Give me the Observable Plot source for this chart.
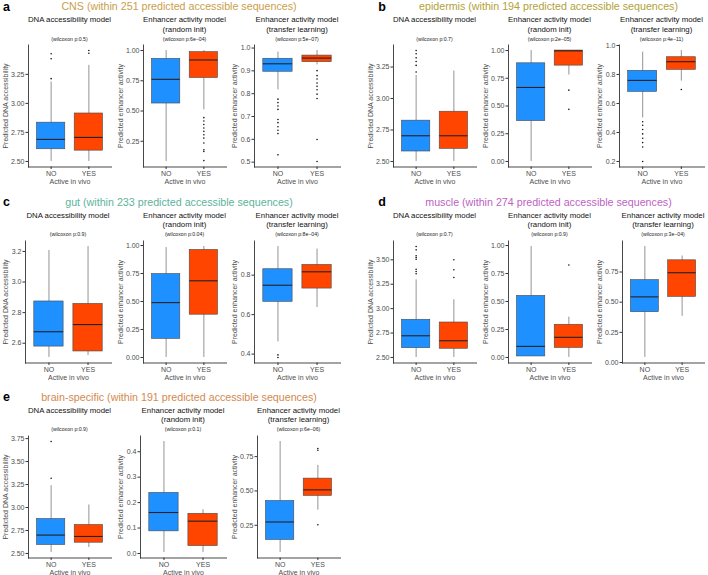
<!DOCTYPE html>
<html><head><meta charset="utf-8">
<script src="https://cdn.jsdelivr.net/npm/d3@7"></script>
<script src="https://cdn.jsdelivr.net/npm/@observablehq/plot@0.6"></script>
<style>
html,body{margin:0;padding:0;background:#fff;}
#chart{position:relative;width:708px;height:575px;overflow:hidden;font-family:"Liberation Sans",Arial,Helvetica,sans-serif;color:#1a1a1a;}
.t{position:absolute;white-space:nowrap;transform:translate(-50%,-50%);line-height:1;}
.sp{position:absolute;}
</style></head><body><div id="chart"></div>
<script>
// ---------- data ----------
const groups = ["NO", "YES"];
const groupColors = ["#1E90FF", "#FF4500"];
const panelLetters = ["a", "b", "c", "d", "e"];
const panelTitles = [
  "CNS (within 251 predicted accessible sequences)",
  "epidermis (within 194 predicted accessible sequences)",
  "gut (within 233 predicted accessible sequences)",
  "muscle (within 274 predicted accessible sequences)",
  "brain-specific (within 191 predicted accessible sequences)"
];
const panelColors = ["#C9A04C", "#B3A13A", "#5DB39B", "#BE5FC4", "#D3894E"];
const modelTitles = [["DNA accessibility model"], ["Enhancer activity model", "(random init)"], ["Enhancer activity model", "(transfer learning)"]];
const yLabels = ["Predicted DNA accessibility", "Predicted enhancer activity", "Predicted enhancer activity"];
const xLabel = "Active in vivo";
const pValues = [
  ["0.5", "6e\u221204", "5e\u221207"],
  ["0.7", "2e\u221205", "4e\u221211"],
  ["0.9", "0.04", "8e\u221204"],
  ["0.7", "0.9", "3e\u221204"],
  ["0.9", "0.1", "6e\u221206"]
];
// box statistics: [panel][model][NO, YES]
const whiskerLow = [
  [[2.50, 2.50], [0.083, 0.51], [0.817, 0.926]],
  [[2.50, 2.50], [0.0, 0.779], [0.50, 0.754]],
  [[2.507, 2.52], [0.0, 0.0], [0.462, 0.636]],
  [[2.50, 2.50], [0.009, 0.0], [0.042, 0.383]],
  [[2.511, 2.565], [0.004, 0.004], [0.052, 0.36]]
];
const lowerQuartile = [
  [[2.605, 2.593], [0.562, 0.773], [0.896, 0.938]],
  [[2.579, 2.60], [0.364, 0.864], [0.68, 0.832]],
  [[2.578, 2.546], [0.166, 0.382], [0.665, 0.732]],
  [[2.595, 2.589], [0.009, 0.085], [0.417, 0.544]],
  [[2.592, 2.617], [0.087, 0.029], [0.143, 0.464]]
];
const medians = [
  [[2.69, 2.707], [0.762, 0.922], [0.931, 0.956]],
  [[2.704, 2.704], [0.667, 0.997], [0.759, 0.888]],
  [[2.675, 2.722], [0.49, 0.685], [0.749, 0.817]],
  [[2.722, 2.671], [0.099, 0.18], [0.544, 0.744]],
  [[2.70, 2.685], [0.161, 0.127], [0.274, 0.508]]
];
const upperQuartile = [
  [[2.834, 2.913], [0.931, 0.987], [0.953, 0.967]],
  [[2.824, 2.895], [0.885, 1.0], [0.825, 0.919]],
  [[2.873, 2.857], [0.745, 0.961], [0.830, 0.852]],
  [[2.886, 2.858], [0.550, 0.292], [0.683, 0.847]],
  [[2.875, 2.81], [0.238, 0.156], [0.427, 0.59]]
];
const whiskerHigh = [
  [[3.184, 3.327], [1.0, 1.0], [0.982, 0.989]],
  [[3.184, 3.218], [1.0, 1.0], [0.954, 0.965]],
  [[3.206, 3.232], [0.982, 0.991], [0.945, 0.932]],
  [[3.295, 3.091], [0.991, 0.36], [0.961, 0.883]],
  [[3.238, 3.028], [0.44, 0.172], [0.86, 0.686]]
];
const outliers = [
  [[[3.213, 3.384, 3.427], [3.432, 3.455]],
   [[], [0.445, 0.417, 0.388, 0.360, 0.332, 0.304, 0.276, 0.235, 0.179, 0.165, 0.090]],
   [[0.776, 0.761, 0.746, 0.731, 0.687, 0.673, 0.655, 0.640, 0.625, 0.532], [0.901, 0.879, 0.864, 0.847, 0.832, 0.817, 0.798, 0.779, 0.599, 0.503]]],
  [[[3.21, 3.263, 3.294, 3.323, 3.355, 3.381], []],
   [[], [0.643, 0.47]],
   [[0.474, 0.45, 0.42, 0.39, 0.36, 0.33, 0.30, 0.20], [0.696]]],
  [[[], []],
   [[], []],
   [[0.396, 0.383], []]],
  [[[3.357, 3.38, 3.404, 3.506, 3.524, 3.541, 3.602, 3.636], [3.319, 3.398, 3.50]],
   [[], [0.826]],
   [[], []]],
  [[[3.318, 3.718], []],
   [[], []],
   [[], [0.254, 0.797, 0.809]]]
];
const yTickLabels = [
  [["2.50", "2.75", "3.00", "3.25"], ["0.25", "0.50", "0.75", "1.00"], ["0.5", "0.6", "0.7", "0.8", "0.9", "1.0"]],
  [["2.50", "2.75", "3.00", "3.25"], ["0.00", "0.25", "0.50", "0.75", "1.00"], ["0.2", "0.4", "0.6", "0.8", "1.0"]],
  [["2.6", "2.8", "3.0", "3.2"], ["0.00", "0.25", "0.50", "0.75", "1.00"], ["0.4", "0.6", "0.8"]],
  [["2.50", "2.75", "3.00", "3.25", "3.50"], ["0.00", "0.25", "0.50", "0.75", "1.00"], ["0.00", "0.25", "0.50", "0.75"]],
  [["2.50", "2.75", "3.00", "3.25", "3.50", "3.75"], ["0.0", "0.1", "0.2", "0.3", "0.4"], ["0.25", "0.50", "0.75"]]
];

// ---------- layout ----------
const chart = document.getElementById("chart");
const colLeft = [0, 365];
const frameOffsets = [0, 115, 229];
const frameWidth = 115;
const rowTop = [0, 195.5, 390.5];
const svgTopOffset = 38, svgHeight = 150, mTop = 6.5, mBottom = 21.5, mRight = 4;

function addText(txt, x, y, css) {
  const d = document.createElement("div");
  d.className = "t";
  d.textContent = txt;
  d.style.left = x + "px";
  d.style.top = y + "px";
  Object.assign(d.style, css);
  chart.appendChild(d);
}

panelLetters.forEach((letter, p) => {
  const row = Math.floor(p / 2), col = p % 2;
  const top = rowTop[row];
  addText(letter, col === 0 ? 6.5 : 382, top + 6.5, {fontSize: "12.5px", fontWeight: "bold", color: "#000"});
  addText(panelTitles[p], col === 0 ? 179 : 548.5, top + 6, {fontSize: "10.7px", color: panelColors[p]});
  for (let m = 0; m < 3; m++) {
    const labels = yTickLabels[p][m];
    const ml = 16 + 3 * d3.max(labels, s => s.length);
    const fw = (col === 1 && m === 2) ? 114 : frameWidth;
    const fx = colLeft[col] + frameOffsets[m];
    const cx = fx + ml + (fw - ml - mRight) / 2;
    modelTitles[m].forEach((line, li) => addText(line, cx, top + 20 + li * 9.5, {fontSize: "7.8px", color: "#111"}));
    addText("(wilcoxon p:" + pValues[p][m] + ")", cx, top + 39.5, {fontSize: "5.2px", color: "#222"});

    const rows = groups.map((g, i) => ({
      group: g, lo: whiskerLow[p][m][i], q1: lowerQuartile[p][m][i], med: medians[p][m][i],
      q3: upperQuartile[p][m][i], hi: whiskerHigh[p][m][i]
    }));
    const outRows = groups.flatMap((g, i) => outliers[p][m][i].map(v => ({group: g, v})));
    const all = rows.flatMap(r => [r.lo, r.hi]).concat(outRows.map(o => o.v));
    const mn = d3.min(all), mx = d3.max(all), pad = (mx - mn) * 0.05;
    const ticks = labels.map(Number);
    const svg = Plot.plot({
      width: fw, height: svgHeight,
      marginLeft: ml, marginRight: mRight, marginTop: mTop, marginBottom: mBottom,
      style: {fontFamily: "'Liberation Sans', Arial, sans-serif", fontSize: "7px", background: "transparent", color: "#333"},
      x: {type: "band", domain: groups, paddingInner: 0.25, paddingOuter: 0.225, round: false},
      y: {domain: [mn - pad, mx + pad]},
      color: {domain: groups, range: groupColors},
      marks: [
        Plot.frame({anchor: "left", stroke: "#333", strokeWidth: 0.9}),
        Plot.frame({anchor: "bottom", stroke: "#333", strokeWidth: 0.9}),
        Plot.axisY({ticks, tickFormat: d => labels[ticks.indexOf(d)] ?? d, tickSize: 2.5, tickPadding: 1.5,
          stroke: "#333", fill: "#4d4d4d", label: yLabels[m], labelAnchor: "center", labelArrow: "none", fontSize: 7}),
        Plot.axisX({tickSize: 2.5, tickPadding: 1.5, stroke: "#333", fill: "#4d4d4d",
          label: xLabel, labelAnchor: "center", labelArrow: "none", labelOffset: 17, fontSize: 7}),
        Plot.ruleX(rows, {x: "group", y1: "lo", y2: "hi", stroke: "#666", strokeWidth: 0.7}),
        Plot.barY(rows, {x: "group", y1: "q1", y2: "q3", fill: "group", stroke: "#4a4a4a", strokeWidth: 0.6}),
        Plot.tickY(rows, {x: "group", y: "med", stroke: "#222", strokeWidth: 1.1}),
        Plot.dot(outRows, {x: "group", y: "v", r: 0.8, fill: "#111", stroke: null})
      ]
    });
    svg.classList.add("sp");
    svg.style.left = fx + "px";
    svg.style.top = (top + svgTopOffset) + "px";
    chart.appendChild(svg);
  }
});
</script></body></html>
